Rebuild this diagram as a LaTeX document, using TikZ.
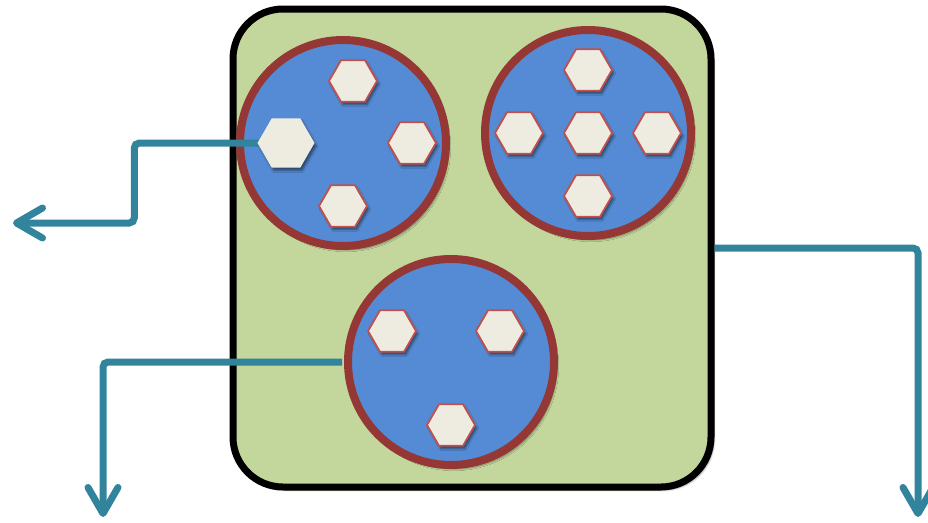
\documentclass[tikz,border=0pt]{standalone}
\usetikzlibrary{arrows.meta,shadows.blur,shapes.geometric}
\definecolor{boxgreen}{HTML}{C3D69B}
\definecolor{poolblue}{HTML}{558BD4}
\definecolor{poolrim}{HTML}{953735}
\definecolor{cellfill}{HTML}{EEECE1}
\definecolor{cellrim}{HTML}{C0504D}
\definecolor{flowteal}{HTML}{31849B}
\tikzset{
  container/.style={draw=black, line width=7pt, fill=boxgreen, rounded corners=50pt,
    minimum width=478pt, minimum height=478pt, inner sep=0pt,
    blur shadow={shadow xshift=3pt, shadow yshift=-3pt, shadow blur steps=8, shadow opacity=35}},
  pool/.style={circle, draw=poolrim, line width=8pt, fill=poolblue, minimum size=206pt, inner sep=0pt,
    blur shadow={shadow xshift=3pt, shadow yshift=-4pt, shadow blur steps=8, shadow opacity=40}},
  hexshape/.style={regular polygon, regular polygon sides=6, inner sep=0pt},
  cell/.style={hexshape, draw=cellrim, line width=1.8pt, fill=cellfill, minimum size=48pt,
    blur shadow={shadow xshift=2pt, shadow yshift=-3pt, shadow blur steps=5, shadow opacity=45}},
  bigcell/.style={hexshape, fill=cellfill, minimum size=57pt,
    blur shadow={shadow xshift=2pt, shadow yshift=-3pt, shadow blur steps=5, shadow opacity=45}},
  flow/.style={draw=flowteal, line width=7pt, rounded corners=5pt,
    -{Straight Barb[length=26pt, width=30pt, round]}},
}
\begin{document}
\begin{tikzpicture}[x=1pt, y=-1pt]
  \useasboundingbox (0,0) rectangle (928,522);

  % outer container
  \node[container] (box) at (472,248) {};

  % pools
  \node[pool] (p1) at (343,143) {};
  \node[pool] (p2) at (588,133) {};
  \node[pool] (p3) at (451,362) {};

  % outline of the large cell leaving the first pool (filled in below)
  \node[hexshape, minimum size=57pt] (x1) at (286,143) {};

  % free ends of the outgoing flows
  \coordinate (out1) at (13,223);
  \coordinate (out2) at (103,517);
  \coordinate (out3) at (918,517);

  % outgoing flows
  \draw[flow] ([xshift=2pt]x1.west) -- ++(-125,0) |- (out1);
  \draw[flow] ([xshift=-2pt]p3.west) -| (out2);
  \draw[flow] (box.east) -| (out3);

  % the large cell, over the end of its flow
  \node[bigcell] (x1face) at (x1.center) {};

  % cells of the first pool
  \node[cell] (a1) at (353,81) {};
  \node[cell] (a2) at (412,143) {};
  \node[cell] (a3) at (343,206) {};

  % cells of the second pool
  \node[cell] (b1) at (588,70) {};
  \node[cell] (b2) at (519,133) {};
  \node[cell] (b3) at (588,133) {};
  \node[cell] (b4) at (657,133) {};
  \node[cell] (b5) at (588,196) {};

  % cells of the third pool
  \node[cell] (c1) at (392,331) {};
  \node[cell] (c2) at (500,331) {};
  \node[cell] (c3) at (451,425) {};
\end{tikzpicture}
\end{document}
